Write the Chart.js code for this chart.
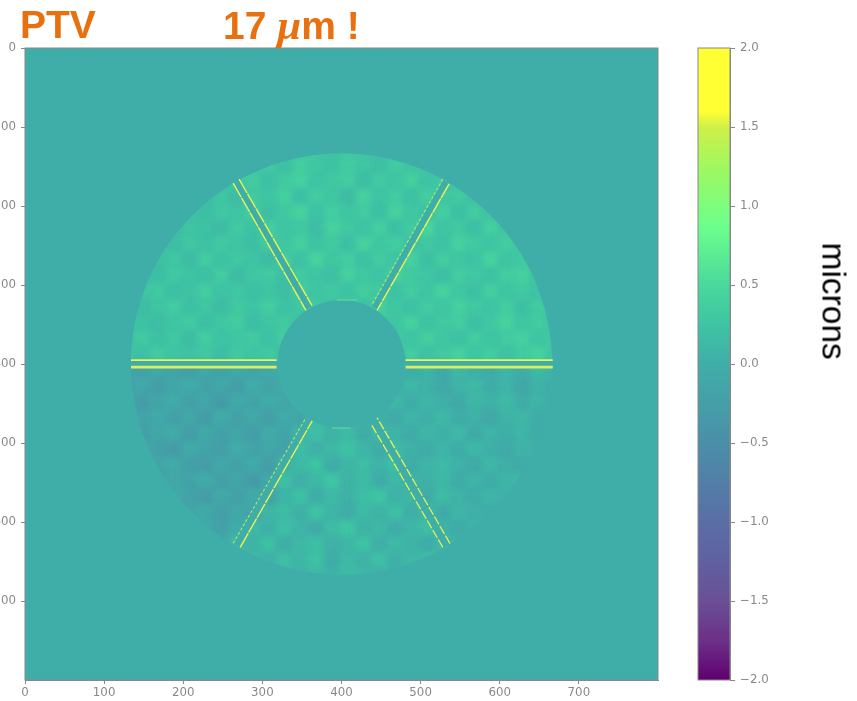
<!DOCTYPE html>
<html>
<head>
<meta charset="utf-8">
<script src="https://cdn.jsdelivr.net/npm/chart.js@4"></script>
<style>
html,body{margin:0;padding:0;background:#fff;width:857px;height:701px;overflow:hidden}
canvas{position:absolute;top:0}
#main{left:0}
#bar{left:690px}
.t{position:absolute;font-family:"Liberation Sans",Arial,sans-serif;white-space:nowrap}
.head{top:0;font-weight:bold;font-size:39px;line-height:50px;color:#E8700F}
.mu{font-family:"Liberation Serif",serif;font-style:italic;font-size:43px}
#unit{left:775px;top:281px;font-size:33.5px;line-height:40px;color:#000;width:117px;text-align:center;transform:rotate(90deg)}
</style>
</head>
<body>
<canvas id="main" width="857" height="701"></canvas>
<canvas id="bar" width="167" height="701"></canvas>
<div class="t head" style="left:20px">PTV</div>
<div class="t head" style="left:223px">17 <span class="mu">&#956;</span>m !</div>
<div class="t" id="unit">microns</div>
<script>
const n = null;
// Surface error in hundredths of a micron, estimated per 20-pixel cell across the ring
const rowTop = [
[n,n,n,n,n,n,n,n,n,n,n,28,32,26,34,30,24,n,n,n,n,n,n,n,n,n,n,n],
[n,n,n,n,n,n,n,n,26,33,22,38,30,24,36,29,20,35,27,31,n,n,n,n,n,n,n,n],
[n,n,n,n,n,n,24,30,36,22,34,42,26,31,37,19,33,28,40,25,32,27,n,n,n,n,n,n],
[n,n,n,n,n,22,29,18,33,27,40,21,36,30,17,41,26,35,23,38,29,34,24,n,n,n,n,n],
[n,n,n,n,25,20,31,26,37,19,33,44,24,38,28,35,20,43,30,26,39,22,36,28,n,n,n,n],
[n,n,n,21,28,24,17,34,23,38,27,31,18,42,33,25,39,22,34,46,27,33,21,40,30,n,n,n],
[n,n,26,19,30,23,33,27,20,36,29,41,25,34,20,44,30,37,26,31,24,42,34,28,38,29,n,n],
[n,n,22,29,18,35,24,31,26,16,38,24,45,30,37,23,35,28,41,22,36,30,25,44,27,33,n,n],
[n,23,19,31,26,21,36,17,29,34,22,33,27,20,41,31,26,43,34,29,20,38,31,24,36,42,28,n],
[n,27,33,20,24,37,25,30,22,27,18,39,28,33,24,36,33,24,36,27,44,30,22,39,28,33,25,n],
[n,18,28,35,22,29,17,33,26,38,24,30,34,27,31,25,39,30,23,35,29,41,33,26,37,22,34,n],
[31,24,20,27,34,21,30,36,19,28,33,24,n,n,n,n,36,27,42,24,33,38,21,31,44,29,35,26],
[26,33,22,30,18,36,25,29,34,23,37,n,n,n,n,n,n,32,26,39,30,23,36,28,34,41,27,32],
[29,21,35,27,24,31,19,34,27,32,22,n,n,n,n,n,n,28,38,24,33,43,29,37,25,35,44,30]
];
const rowBottom = [
[-12,-20,-8,-16,-24,-10,-18,-6,-15,-9,-2,n,n,n,n,n,n,10,-2,7,-6,12,2,-4,9,0,14,4],
[-22,-9,-26,-14,-5,-19,-11,-25,-4,-16,-7,n,n,n,n,n,n,-3,11,3,-8,6,14,-2,8,-9,5,-1],
[-8,-28,-15,-6,-21,-13,-30,-9,-18,-3,-12,-1,n,n,n,n,6,12,-1,9,2,-7,10,4,15,-3,7,-2],
[n,-17,-7,-23,-12,-29,-5,-20,-10,-24,-6,-14,16,2,12,6,3,-5,8,1,13,-4,5,-9,6,11,-1,n],
[n,-24,-13,-5,-27,-9,-19,-14,-26,-7,-16,9,20,6,15,-1,13,7,-3,10,3,12,-6,7,1,9,-4,n],
[n,-10,-21,-31,-8,-16,-25,-4,-18,-12,-20,18,3,12,24,8,-2,14,5,-4,9,-1,11,2,-7,6,3,n],
[n,n,-15,-6,-22,-28,-11,-19,-7,-26,4,14,25,-1,10,18,5,21,-2,8,15,3,-5,10,1,-3,n,n],
[n,n,-25,-12,-17,-5,-23,-14,-30,-9,20,2,12,28,7,16,-1,11,6,3,12,-4,8,-1,7,11,n,n],
[n,n,n,-8,-19,-27,-10,-21,-6,-16,8,22,-2,13,5,19,26,4,10,-3,16,6,-2,9,2,n,n,n],
[n,n,n,n,-14,-6,-24,-11,-18,10,17,3,24,9,-1,15,7,20,1,12,-5,8,3,-1,n,n,n,n],
[n,n,n,n,n,-10,-20,-4,14,2,20,8,-3,16,27,5,12,-2,9,18,6,-3,5,n,n,n,n,n],
[n,n,n,n,n,n,-8,15,6,22,-1,11,19,3,10,24,1,14,7,-2,13,4,n,n,n,n,n,n],
[n,n,n,n,n,n,n,n,12,4,18,9,23,-2,14,6,20,2,11,16,n,n,n,n,n,n,n,n],
[n,n,n,n,n,n,n,n,n,n,n,8,14,3,17,9,5,n,n,n,n,n,n,n,n,n,n,n]
];
const cellSize = 20;
const firstCentre = 130;

// Ring limits in pixel-coordinate units
const ringCentre = [400, 400];
const ringRadii = [266, 81];

// Spoke edge lines: x1, y1, x2, y2 in pixel-coordinate units
const upperLines = [[134,395,318,395],[481,395,667,395]];
const paleLines = [[134,404,318,404],[481,404,667,404]];
const brightLines = [
 [263,171,355,332],[270.5,166,362.7,326],
 [536,172,445,332],[272,632,363,472]
];
const faintLines = [[528,166,438,326],[263,627,355,468]];
const dashedLines = [[528,632,438,477],[537,627,445,468]];
const holeArcs = [[394,319,420,319],[388,481,411,481]];
const channels = [
 [134,399.5,318,399.5],[481,399.5,667,399.5],
 [267,168.5,359,329],[532,169,441.5,329],
 [267.5,629.5,359,470],[532.5,629.5,441.5,472.5]
];

const axisTicks = [0,100,200,300,400,500,600,700];
const barTicks = [2,1.5,1,0.5,0,-0.5,-1,-1.5,-2];
const mapValues = [-2,-1.75,-1.5,-1.25,-1,-0.5,0,0.25,0.5,0.87,1.25,1.5,1.6,2];
const mapColors = ['#5f0070','#6c3088','#6a4f96','#6060a0','#5a6ea6','#4a8fa8','#40aea8','#3ec4a4','#4ad89c','#6cff8c','#a0f85f','#d0f048','#ffff33','#ffff33'];

const bg = '#40AEA8', grey = '#888888';
const hex = c => [1,3,5].map(i => parseInt(c.substr(i,2),16));
function colorOf(v){
  if (v <= mapValues[0]) return mapColors[0];
  for (let i=1;i<mapValues.length;i++){
    if (v <= mapValues[i]){
      const t=(v-mapValues[i-1])/(mapValues[i]-mapValues[i-1]);
      const a=hex(mapColors[i-1]), b=hex(mapColors[i]);
      return `rgb(${a.map((q,k)=>Math.round(q+(b[k]-q)*t)).join(',')})`;
    }
  }
  return mapColors[mapColors.length-1];
}

const cells = [];
rowTop.concat(rowBottom).forEach((row,r)=>row.forEach((v,c)=>{
  if (v!==null) cells.push({x:firstCentre+c*cellSize,y:firstCentre+r*cellSize,v:v/100});
}));
const lineSet = (seg,color,width,order,dash) => ({
  type:'scatter',showLine:true,pointRadius:0,borderColor:color,borderWidth:width,order,
  borderDash:dash||[],data:[{x:seg[0],y:seg[1]},{x:seg[2],y:seg[3]}]
});
const datasets = [{
  type:'scatter',order:3,data:cells,pointStyle:'rect',borderWidth:0,pointBorderWidth:0,
  pointBackgroundColor:c=>colorOf(c.raw?c.raw.v:0),
  pointRadius:c=>{
    const s=c.chart.scales.x;
    return (s.getPixelForValue(cellSize)-s.getPixelForValue(0))*1.2/Math.SQRT2;
  }
}];
channels.forEach(s=>datasets.push(lineSet(s,bg,6,2)));
upperLines.forEach(s=>datasets.push(lineSet(s,'#f2f352',1.8,1)));
paleLines.forEach(s=>datasets.push(lineSet(s,'#dcee58',2.8,1)));
brightLines.forEach(s=>datasets.push(lineSet(s,'#ecf250',1.4,1,[16,1])));
faintLines.forEach(s=>datasets.push(lineSet(s,'#b4e468',1.1,1,[3,2])));
dashedLines.forEach(s=>datasets.push(lineSet(s,'#e8f050',1.3,1,[9,2])));
holeArcs.forEach(s=>datasets.push(lineSet(s,'#5fe29a',1,1)));

const framePlugin = {
  id:'frame',
  beforeDatasetsDraw(ch){
    const a=ch.chartArea; ch.ctx.save(); ch.ctx.fillStyle=bg;
    ch.ctx.fillRect(a.left,a.top,a.width,a.height); ch.ctx.restore();
  },
  beforeDatasetDraw(ch,args){
    if(args.index!==0) return;
    const x=ch.scales.x,y=ch.scales.y,c=ch.ctx;
    const cx=x.getPixelForValue(ringCentre[0]),cy=y.getPixelForValue(ringCentre[1]);
    const k=x.getPixelForValue(1)-x.getPixelForValue(0);
    c.save(); c.beginPath();
    c.arc(cx,cy,ringRadii[0]*k,0,Math.PI*2);
    c.moveTo(cx+ringRadii[1]*k,cy);
    c.arc(cx,cy,ringRadii[1]*k,0,Math.PI*2);
    c.clip('evenodd');
    c.filter='blur(3px)';
  },
  afterDatasetDraw(ch,args){ if(args.index===0) ch.ctx.restore(); },
  afterDatasetsDraw(ch){
    const a=ch.chartArea,c=ch.ctx; c.save(); c.strokeStyle=grey; c.lineWidth=1;
    c.strokeRect(a.left,a.top,a.width,a.height); c.restore();
  }
};
const tickFont = {family:'"DejaVu Sans"',size:11.8};
new Chart(document.getElementById('main'),{
  data:{datasets},
  plugins:[framePlugin],
  options:{
    responsive:false,animation:false,events:[],
    layout:{padding:{left:0,right:199,top:48,bottom:0}},
    plugins:{legend:{display:false},tooltip:{enabled:false}},
    scales:{
      x:{type:'linear',min:0,max:800,
        afterBuildTicks:s=>{s.ticks=axisTicks.map(v=>({value:v}));},
        afterFit:s=>{s.height=21;},
        grid:{drawOnChartArea:false,color:grey,tickLength:4},border:{color:grey},
        ticks:{color:grey,font:tickFont,padding:2,maxRotation:0,autoSkip:false,callback:v=>String(v)}},
      y:{type:'linear',reverse:true,min:0,max:800,
        afterBuildTicks:s=>{s.ticks=axisTicks.map(v=>({value:v}));},
        afterFit:s=>{s.width=25;},
        grid:{drawOnChartArea:false,color:grey,tickLength:4},border:{color:grey},
        ticks:{color:grey,font:tickFont,padding:5,autoSkip:false,callback:v=>String(v)}}
    }
  }
});

new Chart(document.getElementById('bar'),{
  type:'bar',
  data:{labels:['microns'],datasets:[{
    data:[[-2,2]],barPercentage:1,categoryPercentage:1,borderWidth:0,
    backgroundColor:c=>{
      const s=c.chart.scales.y; if(!s||!c.chart.chartArea) return bg;
      const g=c.chart.ctx.createLinearGradient(0,s.getPixelForValue(-2),0,s.getPixelForValue(2));
      mapValues.forEach((v,i)=>g.addColorStop((v+2)/4,mapColors[i]));
      return g;
    }
  }]},
  plugins:[{id:'barFrame',afterDatasetsDraw(ch){
    const a=ch.chartArea,c=ch.ctx; c.save(); c.strokeStyle=grey; c.lineWidth=1;
    c.strokeRect(a.left,a.top,a.width,a.height); c.restore();
  }}],
  options:{
    responsive:false,animation:false,events:[],
    layout:{padding:{left:8,right:0,top:48,bottom:21}},
    plugins:{legend:{display:false},tooltip:{enabled:false}},
    scales:{
      x:{display:false},
      y:{position:'right',min:-2,max:2,
        afterBuildTicks:s=>{s.ticks=barTicks.map(v=>({value:v}));},
        afterFit:s=>{s.width=127;},
        grid:{drawOnChartArea:false,color:grey,tickLength:5},border:{color:grey},
        ticks:{color:grey,font:tickFont,padding:5,autoSkip:false,callback:v=>v.toFixed(1).replace('-','\u2212')}}
    }
  }
});
</script>
</body>
</html>
